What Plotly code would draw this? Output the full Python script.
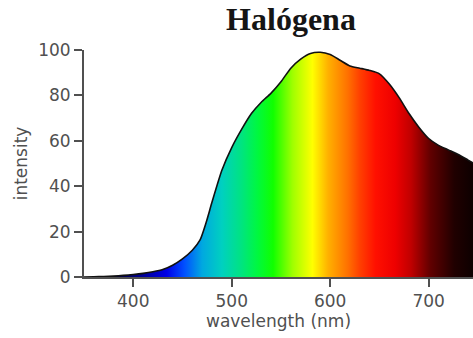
import plotly.graph_objects as go

# Halogen lamp emission spectrum (relative intensity vs wavelength)
wavelength_nm = [350, 360, 370, 380, 390, 400, 410, 420, 430, 440, 450, 460,
                 468, 474, 480, 490, 500, 510, 520, 530, 540, 550, 560, 570,
                 580, 590, 600, 610, 620, 630, 640, 650, 660, 670, 680, 690,
                 700, 710, 720, 730, 740, 750]
intensity = [0.0, 0.1, 0.2, 0.4, 0.7, 1.1, 1.6, 2.3, 3.3, 5.2, 8.0, 11.8,
             16.5, 24, 33, 47, 57, 65, 72, 77, 81, 86, 92, 96,
             98.5, 99, 98, 95.5, 93, 92, 91, 89.5, 85, 79, 72, 66,
             61, 58, 56, 54, 51.5, 49]

x_ticks = [400, 500, 600, 700]
y_ticks = [0, 20, 40, 60, 80, 100]

# visible-spectrum colour ramp over 350-750 nm
spectrum_scale = [
    [0.00, "#000000"],
    [0.05, "#050010"],
    [0.12, "#000070"],
    [0.21, "#0000e8"],
    [0.255, "#0050ff"],
    [0.30, "#00a8e0"],
    [0.35, "#00d0c0"],
    [0.40, "#00e480"],
    [0.44, "#00f840"],
    [0.48, "#10ff00"],
    [0.53, "#a0ff00"],
    [0.58, "#ffff00"],
    [0.62, "#ffb000"],
    [0.67, "#ff7000"],
    [0.70, "#ff4000"],
    [0.74, "#ff1000"],
    [0.79, "#ee0000"],
    [0.83, "#c00000"],
    [0.88, "#600000"],
    [0.94, "#200000"],
    [1.00, "#080000"],
]

axis_col = "#505050"
font_family = "DejaVu Sans"

fig = go.Figure()
fig.add_trace(go.Scatter(
    x=wavelength_nm,
    y=intensity,
    mode="lines",
    line=dict(color="#111111", width=1.6, shape="spline", smoothing=0.6),
    fill="tozeroy",
    fillgradient=dict(type="horizontal", colorscale=spectrum_scale,
                      start=350, stop=750),
    hoverinfo="skip",
    showlegend=False,
))

fig.update_layout(
    width=473, height=338,
    margin=dict(l=84, r=0, t=50, b=61),
    paper_bgcolor="white",
    plot_bgcolor="white",
    title=dict(text="<b>Halógena</b>", x=291 / 473, xanchor="center",
               y=1 - 19 / 338, yanchor="middle",
               font=dict(family="Liberation Serif", size=32, color="#151515")),
    font=dict(family=font_family, size=17, color=axis_col),
)

fig.update_xaxes(
    range=[350, 745],
    tickvals=x_ticks,
    ticks="outside", ticklen=8, tickwidth=2, tickcolor=axis_col,
    showline=True, linecolor=axis_col, linewidth=2,
    showgrid=False, zeroline=False,
    tickfont=dict(size=17, color=axis_col),
    title=dict(text="wavelength (nm)", standoff=2,
               font=dict(size=17, color=axis_col)),
)
fig.update_yaxes(
    range=[0, 100],
    tickvals=y_ticks,
    ticks="outside", ticklen=8, tickwidth=2, tickcolor=axis_col,
    showline=True, linecolor=axis_col, linewidth=2,
    showgrid=False, zeroline=False,
    tickfont=dict(size=17, color=axis_col),
    title=dict(text="intensity", standoff=6,
               font=dict(size=17, color=axis_col)),
)

fig.write_html("out.html")
